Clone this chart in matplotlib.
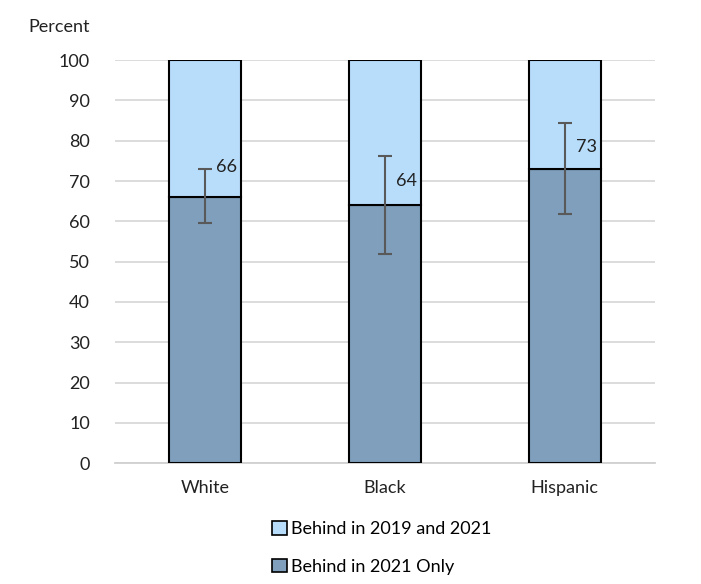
import matplotlib.pyplot as plt
from matplotlib.patches import Patch
import numpy as np

plt.rcParams['font.family'] = ['Lato', 'DejaVu Sans']

groups = ["White", "Black", "Hispanic"]
only_2021 = [66, 64, 73]
both_years = [34, 36, 27]
err_low = [59.6, 51.9, 61.8]
err_high = [73.0, 76.2, 84.4]

light = "#B7DDFB"
dark = "#7F9FBC"

fig = plt.figure(figsize=(7.01, 5.84), dpi=100)
ax = fig.add_axes([0.164, 0.207, 0.770, 0.690])

x = np.arange(len(groups))
ax.bar(x, only_2021, width=0.4, color=dark, edgecolor="black", linewidth=1.5, zorder=3)
ax.bar(x, both_years, width=0.4, bottom=only_2021, color=light, edgecolor="black", linewidth=1.5, zorder=3)

vals = np.array(only_2021)
yerr = [vals - np.array(err_low), np.array(err_high) - vals]
ax.errorbar(x, vals, yerr=yerr, fmt="none", ecolor="#595959", elinewidth=1.5,
            capsize=5, capthick=1.5, zorder=4)

# label positions (y) chosen to sit beside the error bars
label_y = [73.6, 70, 78.5]
for xi, v, ly in zip(x, only_2021, label_y):
    ax.text(xi + 0.06, ly, str(v), fontsize=13, va="center", ha="left", color="#222222", zorder=5)

ax.set_xlim(-0.5, 2.5)
ax.set_ylim(0, 100)
ax.set_yticks(range(0, 101, 10))
ax.set_xticks(x)
ax.set_xticklabels(groups)
ax.tick_params(axis="both", length=0, labelsize=13, colors="#222222")
ax.tick_params(axis="y", pad=18)
ax.tick_params(axis="x", pad=12)
ax.yaxis.grid(True, color="#d9d9d9", linewidth=1.3, zorder=0)
ax.set_axisbelow(True)
for s in ["left", "right", "top"]:
    ax.spines[s].set_visible(False)
ax.spines["bottom"].set_color("#d0d0d0")
ax.spines["bottom"].set_linewidth(1.3)

fig.text(0.04, 0.953, "Percent", fontsize=13, color="#222222", va="center")

handles = [Patch(facecolor=light, edgecolor="black", linewidth=1.2, label="Behind in 2019 and 2021"),
           Patch(facecolor=dark, edgecolor="black", linewidth=1.2, label="Behind in 2021 Only")]
fig.legend(handles=handles, loc="center", bbox_to_anchor=(0.545, 0.062), ncol=1, frameon=False,
           fontsize=13, handlelength=0.8, handleheight=0.8, handletextpad=0.25, labelspacing=1.2)

fig.savefig("out.png", dpi=100)
